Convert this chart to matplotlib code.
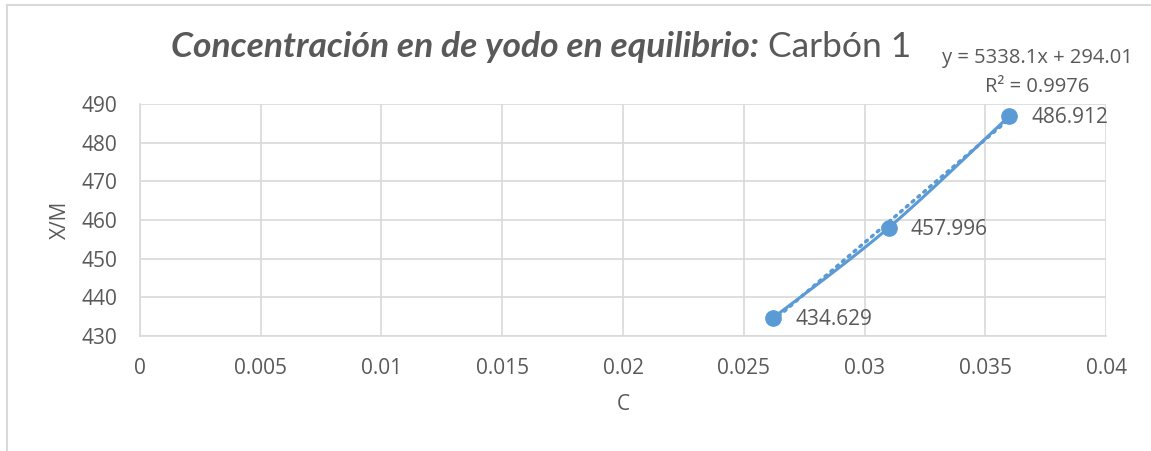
import numpy as np
import matplotlib.pyplot as plt
from matplotlib.lines import Line2D

# data
conc = [0.0262, 0.031, 0.036]
xm = [434.629, 457.996, 486.912]
labels = ["434.629", "457.996", "486.912"]
slope, intercept = 5338.1, 294.01
r2 = 0.9976

blue = "#5b9bd5"
grey = "#d9d9d9"
txt = "#595959"

plt.rcParams['font.family'] = ['Open Sans', 'DejaVu Sans']


def smooth(xs, ys, n=40):
    # catmull-rom through the points, like excel's smoothed line
    p = np.column_stack([xs, ys]).astype(float)
    p = np.vstack([p[0], p, p[-1]])
    out = []
    for i in range(1, len(p) - 2):
        p0, p1, p2, p3 = p[i - 1], p[i], p[i + 1], p[i + 2]
        t = np.linspace(0, 1, n)[:, None]
        c = 0.5 * ((2 * p1) + (-p0 + p2) * t + (2 * p0 - 5 * p1 + 4 * p2 - p3) * t ** 2
                   + (-p0 + 3 * p1 - 3 * p2 + p3) * t ** 3)
        out.append(c)
    c = np.vstack(out)
    return c[:, 0], c[:, 1]


fig = plt.figure(figsize=(11.51, 4.51), dpi=100)
ax = fig.add_axes([0.1216, 0.255, 0.8394, 0.5144])

sx, sy = smooth(conc, xm)
ax.plot(sx, sy, color=blue, lw=2.2, zorder=3)
tx = np.linspace(conc[0], conc[-1], 50)
ax.plot(tx, slope * tx + intercept, color=blue, lw=2.5, ls=(0, (0.6, 1.6)),
        dash_capstyle='round', zorder=2)
ax.plot(conc, xm, 'o', color=blue, ms=11, zorder=4)
for x, y, s in zip(conc, xm, labels):
    ax.annotate(s, (x, y), xytext=(16, -1), textcoords='offset points',
                fontsize=15, color=txt, va='center')

ax.set_xlim(0, 0.04)
ax.set_ylim(430, 490)
ax.set_xticks([0, 0.005, 0.01, 0.015, 0.02, 0.025, 0.03, 0.035, 0.04])
ax.set_xticklabels(["0", "0.005", "0.01", "0.015", "0.02", "0.025", "0.03", "0.035", "0.04"])
ax.set_yticks(range(430, 491, 10))
ax.grid(True, color=grey, lw=1.2)
ax.set_axisbelow(True)
for s in ['top', 'right']:
    ax.spines[s].set_visible(False)
for s in ['left', 'bottom']:
    ax.spines[s].set_color(grey)
    ax.spines[s].set_linewidth(1.2)
ax.tick_params(length=0, labelsize=15, labelcolor=txt)
ax.tick_params(axis='y', pad=16)
ax.tick_params(axis='x', pad=16)
ax.set_xlabel("C", fontsize=15, color=txt, labelpad=11)
ax.set_ylabel("X/M", fontsize=15, color=txt, labelpad=8)

t1 = fig.text(0.149, 0.874, "Concentración en de yodo en equilibrio:", fontsize=25.5,
              fontweight='bold', fontstyle='italic', color=txt, family=['Lato', 'DejaVu Sans'],
              va='baseline')
ax.annotate(" Carbón 1", xy=(1, 0), xycoords=t1, fontsize=25.5, color=txt, va='bottom',
            family=['Lato', 'DejaVu Sans'])
fig.text(0.901, 0.86, "y = 5338.1x + 294.01", fontsize=14.5, color=txt, ha='center',
         va='baseline')
fig.text(0.901, 0.796, "R² = %.4f" % r2, fontsize=14.5, color=txt, ha='center', va='baseline')

# chart area border
fig.add_artist(Line2D([0.006, 0.006], [0, 0.99], color=grey, lw=1.5, transform=fig.transFigure))
fig.add_artist(Line2D([0.006, 1], [0.99, 0.99], color=grey, lw=1.5, transform=fig.transFigure))

fig.savefig("out.png", dpi=100)
